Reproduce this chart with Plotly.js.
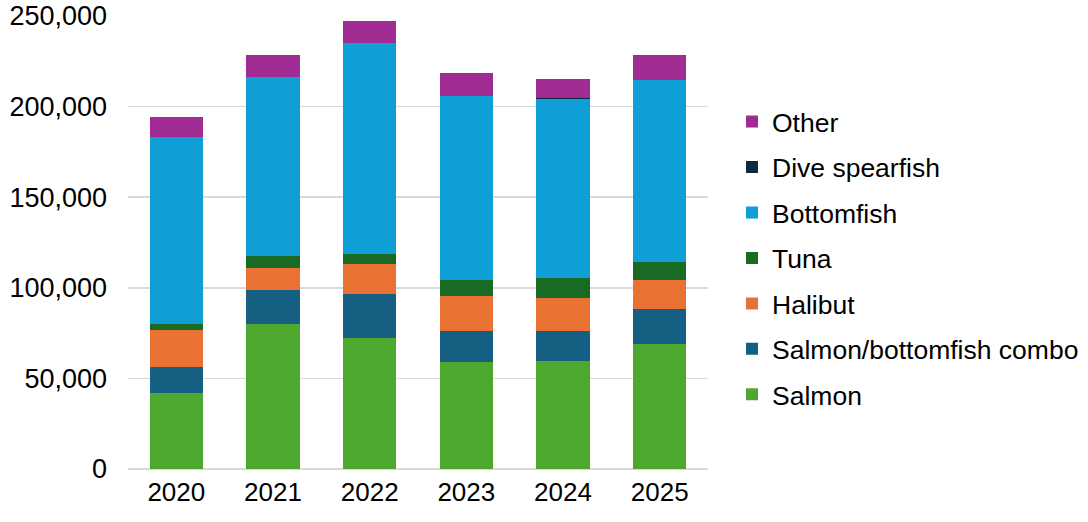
<!DOCTYPE html>
<html>
<head>
<meta charset="utf-8">
<script src="https://cdn.plot.ly/plotly-3.0.1.min.js"></script>
<style>html,body{margin:0;padding:0;background:#fff;}#chart{width:1088px;height:522px;}</style>
</head>
<body>
<div id="chart"></div>
<script>
const years = ['2020', '2021', '2022', '2023', '2024', '2025'];
const salmon = [42200, 79900, 72200, 58900, 59800, 68900];
const salmonBottomfishCombo = [14300, 18800, 24300, 17500, 16400, 19600];
const halibut = [20100, 12300, 16700, 19000, 18100, 15700];
const tuna = [3300, 6500, 5500, 8800, 11000, 9900];
const bottomfish = [103100, 98600, 116400, 101800, 98700, 100700];
const diveSpearfish = [100, 100, 100, 100, 900, 100];
const other = [11000, 12200, 12000, 12300, 10100, 13500];

const seriesNames = ['Salmon', 'Salmon/bottomfish combo', 'Halibut', 'Tuna', 'Bottomfish', 'Dive spearfish', 'Other'];
const seriesValues = [salmon, salmonBottomfishCombo, halibut, tuna, bottomfish, diveSpearfish, other];
const seriesColors = ['#4EA72E', '#156082', '#E97132', '#196B24', '#0F9ED5', '#0E2841', '#A02B93'];

const font = 'Liberation Sans, Arial, sans-serif';

const traces = seriesNames.map((name, i) => ({
  type: 'bar',
  name: name,
  x: years,
  y: seriesValues[i],
  marker: {color: seriesColors[i], line: {width: 0}},
  legendgroup: 'g' + i,
  legendrank: 100 - i,
  hoverinfo: 'x+y+name'
}));

const layout = {
  width: 1088,
  height: 522,
  barmode: 'stack',
  bargap: 0.45,
  margin: {l: 128, r: 380, t: 16, b: 53, pad: 0, autoexpand: false},
  paper_bgcolor: '#ffffff',
  plot_bgcolor: '#ffffff',
  font: {family: font, size: 27, color: '#000000'},
  showlegend: true,
  legend: {
    x: 1.0414, xanchor: 'left',
    y: 0.465, yanchor: 'middle',
    traceorder: 'grouped',
    tracegroupgap: 8,
    font: {family: font, size: 26.5, color: '#000000'},
    itemwidth: 30,
    bgcolor: 'rgba(0,0,0,0)'
  },
  xaxis: {
    type: 'category',
    showgrid: false,
    showline: false,
    zeroline: false,
    ticks: '',
    ticklabelstandoff: 5,
    tickfont: {family: font, size: 26, color: '#000000'}
  },
  yaxis: {
    range: [0, 250000],
    tickvals: [0, 50000, 100000, 150000, 200000, 250000],
    ticktext: ['0', '50,000', '100,000', '150,000', '200,000', '250,000'],
    showgrid: true,
    gridcolor: '#d9d9d9',
    gridwidth: 1.5,
    zeroline: true,
    zerolinecolor: '#d9d9d9',
    zerolinewidth: 1.5,
    showline: false,
    ticks: '',
    ticklabelstandoff: 20,
    tickfont: {family: font, size: 27, color: '#000000'}
  }
};

Plotly.newPlot('chart', traces, layout, {displayModeBar: false, staticPlot: true});
</script>
</body>
</html>
